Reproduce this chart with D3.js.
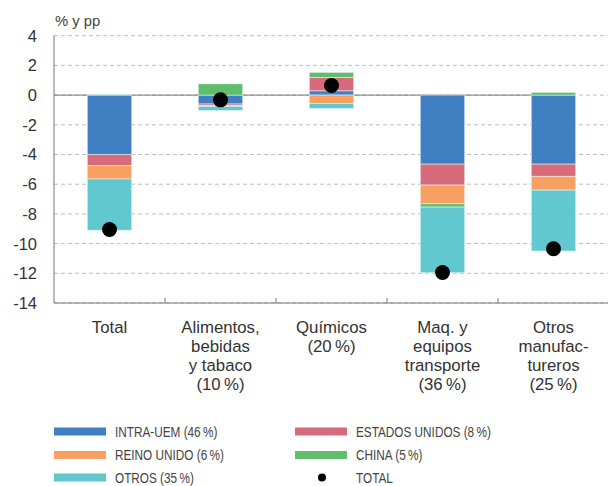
<!DOCTYPE html>
<html>
<head>
<meta charset="utf-8">
<script src="https://cdn.jsdelivr.net/npm/d3@7"></script>
<style>
  body { margin: 0; background: #fff; }
  svg { display: block; font-family: "Liberation Sans", Arial, sans-serif; }
</style>
</head>
<body>
<svg id="chart" width="608" height="486"></svg>
<script>
// ============= Data =============
const categories = ['Total', 'Alimentos', 'Quimicos', 'Maq', 'Otros'];
const categoryLabels = [
  ['Total'],
  ['Alimentos,', 'bebidas', 'y tabaco', '(10\u2009%)'],
  ['Químicos', '(20\u2009%)'],
  ['Maq. y', 'equipos', 'transporte', '(36\u2009%)'],
  ['Otros', 'manufac-', 'tureros', '(25\u2009%)']
];

const intraUem      = [-4.0, -0.6, 0.29, -4.65, -4.65];
const estadosUnidos = [-0.75, -0.1, 0.9, -1.41, -0.82];
const reinoUnido    = [-0.9, -0.06, -0.56, -1.26, -0.93];
const china         = [0.05, 0.76, 0.34, -0.22, 0.18];
const otros         = [-3.45, -0.27, -0.34, -4.42, -4.1];
const total         = [-9.05, -0.32, 0.65, -11.95, -10.35];

const seriesKeys   = ['intraUem', 'estadosUnidos', 'reinoUnido', 'china', 'otros'];
const seriesNames  = ['INTRA-UEM (46\u2009%)', 'ESTADOS UNIDOS (8\u2009%)', 'REINO UNIDO (6\u2009%)', 'CHINA (5\u2009%)', 'OTROS (35\u2009%)'];
const seriesColors = ['#3f7fc2', '#d86b7b', '#f8a062', '#5fbd6b', '#62c8d0'];
const yTicks = d3.range(-14, 5, 2);

// build rows for d3.stack
const rows = categories.map((c, i) => ({
  cat: c,
  intraUem: intraUem[i],
  estadosUnidos: estadosUnidos[i],
  reinoUnido: reinoUnido[i],
  china: china[i],
  otros: otros[i],
  total: total[i]
}));

// ============= Scales =============
const svg = d3.select('#chart');
const plotLeft = 54, plotRight = 609, plotTop = 35.7, plotBottom = 303;

const x = d3.scaleBand()
  .domain(categories)
  .range([plotLeft, plotRight])
  .paddingInner(0.6)
  .paddingOuter(0.3);

const xCat = d3.scaleBand()
  .domain(categories)
  .range([plotLeft, plotRight]);

const y = d3.scaleLinear()
  .domain([-14, 4])
  .range([plotBottom, plotTop]);

const color = d3.scaleOrdinal().domain(seriesKeys).range(seriesColors);

// ============= Grid =============
svg.append('g')
  .selectAll('line')
  .data(yTicks)
  .join('line')
    .attr('x1', plotLeft)
    .attr('x2', 608)
    .attr('y1', d => y(d))
    .attr('y2', d => y(d))
    .attr('stroke', '#bdbdbd')
    .attr('stroke-dasharray', '4,3');

// zero line
svg.append('line')
  .attr('x1', plotLeft)
  .attr('x2', x('Otros') + x.bandwidth() / 2)
  .attr('y1', y(0))
  .attr('y2', y(0))
  .attr('stroke', '#777');

// ============= Stacked bars =============
const stacked = d3.stack()
  .keys(seriesKeys)
  .offset(d3.stackOffsetDiverging)(rows);

svg.append('g')
  .selectAll('g')
  .data(stacked)
  .join('g')
    .attr('fill', d => color(d.key))
  .selectAll('rect')
  .data(d => d)
  .join('rect')
    .attr('x', d => x(d.data.cat))
    .attr('width', x.bandwidth())
    .attr('y', d => y(Math.max(d[0], d[1])))
    .attr('height', d => Math.abs(y(d[0]) - y(d[1])))
    .attr('stroke', 'rgba(230,245,250,0.7)')
    .attr('stroke-width', 0.8);

// total dots
svg.append('g')
  .selectAll('circle')
  .data(rows)
  .join('circle')
    .attr('cx', d => x(d.cat) + x.bandwidth() / 2)
    .attr('cy', d => y(d.total))
    .attr('r', 7.5)
    .attr('fill', '#000');

// ============= Axes =============
// left axis
svg.append('line')
  .attr('x1', plotLeft).attr('x2', plotLeft)
  .attr('y1', plotTop).attr('y2', plotBottom)
  .attr('stroke', '#777');

svg.append('g')
  .selectAll('text')
  .data(yTicks)
  .join('text')
    .attr('x', 37)
    .attr('y', d => y(d))
    .attr('dy', '0.36em')
    .attr('text-anchor', 'end')
    .attr('font-size', 16.5)
    .attr('fill', '#333')
    .text(d => d);

svg.append('text')
  .attr('x', 55)
  .attr('y', 26)
  .attr('font-size', 14.8)
  .attr('fill', '#444')
  .text('% y pp');

// bottom axis
svg.append('line')
  .attr('x1', plotLeft).attr('x2', 608)
  .attr('y1', plotBottom).attr('y2', plotBottom)
  .attr('stroke', '#777');

svg.append('g')
  .selectAll('line')
  .data(categories.slice(1))
  .join('line')
    .attr('x1', d => xCat(d))
    .attr('x2', d => xCat(d))
    .attr('y1', plotBottom)
    .attr('y2', plotBottom - 5)
    .attr('stroke', '#777');

svg.append('g')
  .selectAll('text')
  .data(categories)
  .join('text')
    .attr('x', d => xCat(d) + xCat.bandwidth() / 2)
    .attr('y', 332.5)
    .attr('text-anchor', 'middle')
    .attr('font-size', 16.8)
    .attr('fill', '#333')
  .selectAll('tspan')
  .data((d, i) => categoryLabels[i])
  .join('tspan')
    .attr('x', function(){ return this.parentNode.getAttribute('x'); })
    .attr('dy', (d, i) => i === 0 ? 0 : 19.2)
    .text(d => d);

// ============= Legend =============
const legendItems = [
  {type: 'bar', key: 'intraUem', col: 0, row: 0},
  {type: 'bar', key: 'estadosUnidos', col: 1, row: 0},
  {type: 'bar', key: 'reinoUnido', col: 0, row: 1},
  {type: 'bar', key: 'china', col: 1, row: 1},
  {type: 'bar', key: 'otros', col: 0, row: 2},
  {type: 'dot', key: 'total', col: 1, row: 2}
];
const colX = [54, 295], rowY = [431.5, 455, 477.5];

const legend = svg.append('g')
  .selectAll('g')
  .data(legendItems)
  .join('g')
    .attr('transform', d => 'translate(' + colX[d.col] + ',' + rowY[d.row] + ')');

legend.filter(d => d.type === 'bar')
  .append('rect')
    .attr('x', 0)
    .attr('y', -4)
    .attr('width', 52)
    .attr('height', 8)
    .attr('fill', d => color(d.key));

legend.filter(d => d.type === 'dot')
  .append('circle')
    .attr('cx', 27)
    .attr('r', 4)
    .attr('fill', '#000');

legend.append('text')
  .attr('transform', 'translate(61,0) scale(0.76,1)')
  .attr('dy', '0.34em')
  .attr('font-size', 15.5)
  .attr('fill', '#444')
  .text(d => d.type === 'dot' ? 'TOTAL' : seriesNames[seriesKeys.indexOf(d.key)]);
</script>
</body>
</html>
